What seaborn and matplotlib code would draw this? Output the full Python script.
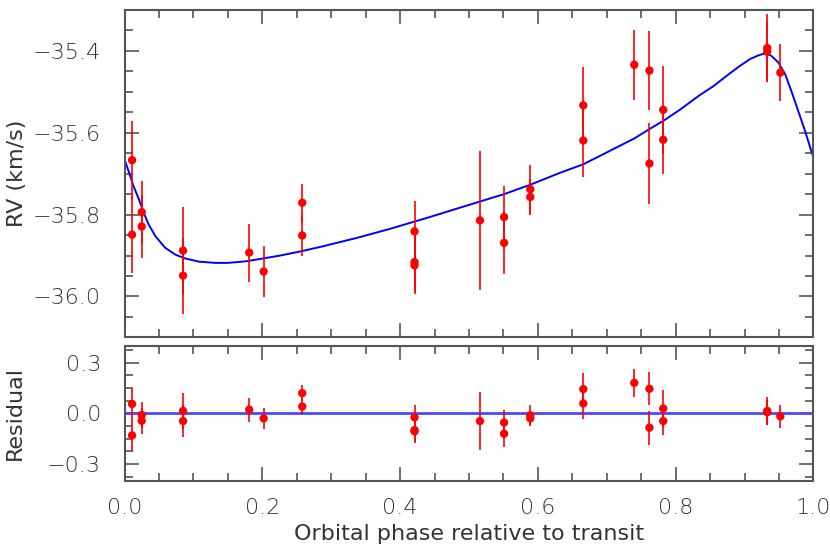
import numpy as np
import pandas as pd
import seaborn as sns
import matplotlib
matplotlib.use('Agg')
import matplotlib.pyplot as plt
from matplotlib.ticker import MultipleLocator, FuncFormatter

phase = [0.011, 0.011, 0.025, 0.025, 0.085, 0.085, 0.181, 0.202, 0.258, 0.258,
         0.421, 0.421, 0.421, 0.516, 0.551, 0.551, 0.589, 0.589, 0.666, 0.666,
         0.740, 0.762, 0.762, 0.782, 0.782, 0.933, 0.933, 0.952]
rv = [-35.667, -35.849, -35.794, -35.829, -35.888, -35.949, -35.893, -35.939, -35.771, -35.851,
      -35.841, -35.916, -35.924, -35.814, -35.806, -35.869, -35.738, -35.757, -35.533, -35.619,
      -35.434, -35.448, -35.675, -35.544, -35.617, -35.393, -35.402, -35.453]
rv_err = [0.096, 0.094, 0.077, 0.076, 0.106, 0.093, 0.071, 0.063, 0.047, 0.049,
          0.075, 0.072, 0.070, 0.170, 0.075, 0.076, 0.060, 0.045, 0.093, 0.089,
          0.085, 0.097, 0.100, 0.108, 0.085, 0.082, 0.074, 0.069]
resid = [0.055, -0.131, -0.010, -0.044, 0.014, -0.046, 0.022, -0.030, 0.119, 0.040,
         -0.024, -0.099, -0.107, -0.046, -0.055, -0.121, -0.012, -0.030, 0.143, 0.058,
         0.180, 0.145, -0.085, 0.028, -0.046, 0.014, 0.006, -0.018]

# orbit model curve, sampled from the figure
model_phase = [0.0, 0.006, 0.013, 0.021, 0.028, 0.035, 0.045, 0.059, 0.074, 0.088,
               0.108, 0.132, 0.150, 0.177, 0.226, 0.258, 0.289, 0.337, 0.372,
               0.385, 0.421, 0.443, 0.516, 0.551, 0.589, 0.632, 0.666, 0.740, 0.762,
               0.782, 0.806, 0.835, 0.855, 0.874, 0.893, 0.908, 0.920, 0.930, 0.939,
               0.949, 0.959, 0.968, 0.978, 0.988, 0.997, 1.0]
model_rv = [-35.665, -35.694, -35.730, -35.763, -35.796, -35.824, -35.853, -35.881, -35.898, -35.907,
            -35.915, -35.918, -35.918, -35.914, -35.900, -35.889, -35.877, -35.857, -35.841,
            -35.835, -35.817, -35.806, -35.768, -35.750, -35.727, -35.698, -35.677, -35.614, -35.591,
            -35.571, -35.544, -35.508, -35.486, -35.461, -35.437, -35.420, -35.411, -35.406, -35.412,
            -35.428, -35.457, -35.498, -35.547, -35.596, -35.645, -35.660]

df = pd.DataFrame({'phase': phase, 'rv': rv, 'err': rv_err, 'resid': resid})
model = pd.DataFrame({'phase': model_phase, 'rv': model_rv})

sns.set_style('ticks')
plt.rcParams['font.family'] = ['DejaVu Sans']
plt.rcParams['font.weight'] = 'light'
txt = '#333333'
frame = '#555555'
fs = 16

def minus_fmt(v, pos):
    return ('%.1f' % v).replace('-', '\u2212')

fig = plt.figure(figsize=(8.3, 5.54), dpi=100)
ax1 = fig.add_axes([0.150, 0.391, 0.830, 0.591])
ax2 = fig.add_axes([0.150, 0.132, 0.830, 0.244])

# top panel
sns.lineplot(data=model, x='phase', y='rv', color='#0000ff', lw=1.4, sort=True, ax=ax1, zorder=2)
ax1.errorbar(df['phase'], df['rv'], yerr=df['err'], fmt='none', ecolor='red', elinewidth=1.2, capsize=0, zorder=3)
sns.scatterplot(data=df, x='phase', y='rv', color='red', s=36, edgecolor='none', ax=ax1, zorder=4)
ax1.set_xlim(0, 1)
ax1.set_ylim(-36.1, -35.3)
ax1.yaxis.set_major_locator(MultipleLocator(0.2))
ax1.yaxis.set_minor_locator(MultipleLocator(0.05))
ax1.set_ylabel('RV (km/s)', fontsize=fs, color=txt, labelpad=4)
ax1.set_xlabel('')
ax1.set_xticklabels([])

# residual panel
ax2.axhline(0, color='#4a4aff', lw=2, zorder=2)
ax2.errorbar(df['phase'], df['resid'], yerr=df['err'], fmt='none', ecolor='red', elinewidth=1.2, capsize=0, zorder=3)
sns.scatterplot(data=df, x='phase', y='resid', color='red', s=36, edgecolor='none', ax=ax2, zorder=4)
ax2.set_xlim(0, 1)
ax2.set_ylim(-0.4, 0.4)
ax2.yaxis.set_major_locator(MultipleLocator(0.3))
ax2.yaxis.set_minor_locator(MultipleLocator(0.075))
ax2.set_ylabel('Residual', fontsize=fs, color=txt, labelpad=16)
ax2.set_xlabel('Orbital phase relative to transit', fontsize=fs, color=txt, labelpad=5)

for ax in (ax1, ax2):
    ax.xaxis.set_major_locator(MultipleLocator(0.2))
    ax.xaxis.set_minor_locator(MultipleLocator(0.05))
    ax.tick_params(which='both', direction='in', top=True, right=True, colors=frame,
                   labelcolor=txt, labelsize=fs, width=1.2)
    ax.tick_params(which='major', length=10)
    ax.tick_params(axis='y', which='major', pad=17)
    ax.tick_params(axis='x', which='major', pad=12)
    ax.tick_params(which='minor', length=6)
    ax.yaxis.set_major_formatter(FuncFormatter(minus_fmt))
    for s in ax.spines.values():
        s.set_color(frame)
        s.set_linewidth(1.5)
ax2.xaxis.set_major_formatter(FuncFormatter(minus_fmt))

fig.savefig('out.png', dpi=100)
